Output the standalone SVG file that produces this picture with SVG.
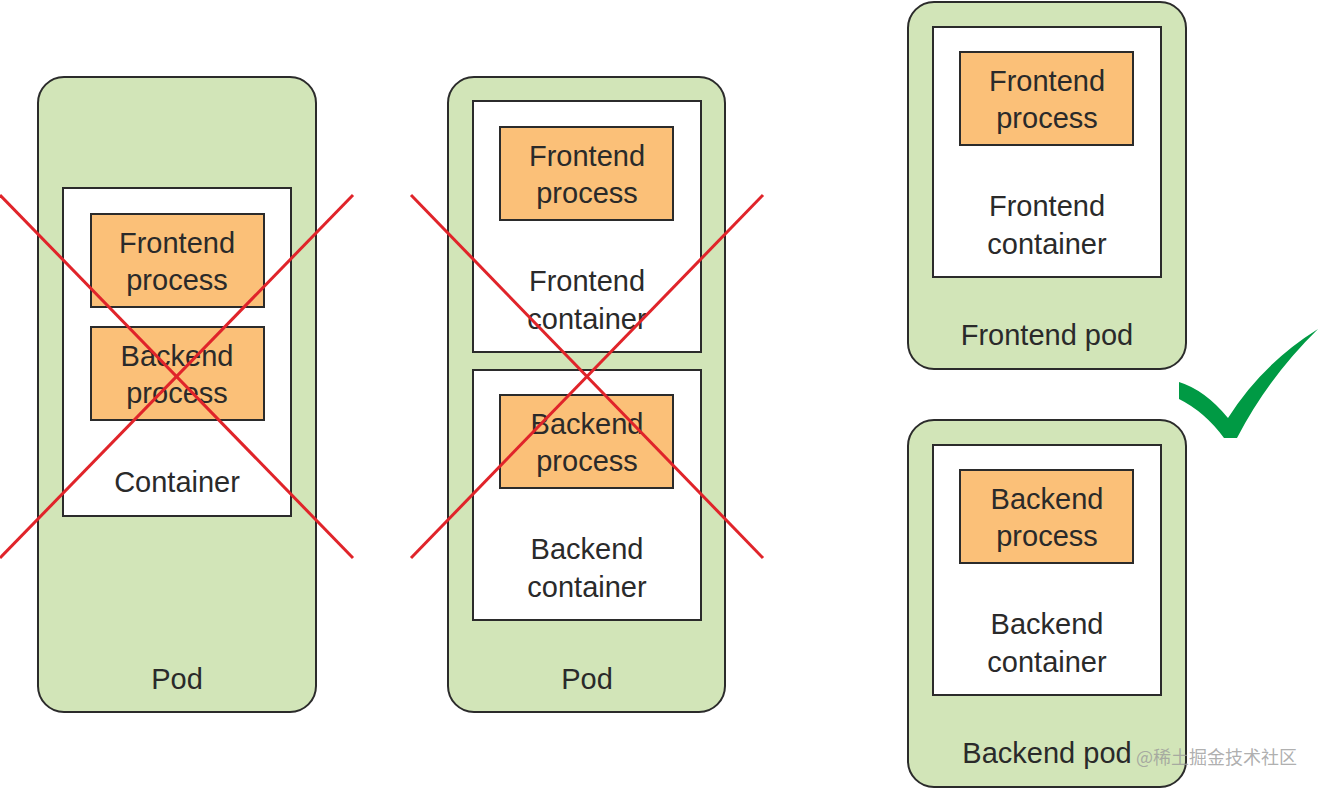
<svg xmlns="http://www.w3.org/2000/svg" width="1319" height="790" viewBox="0 0 1319 790">
<style>
.pod{fill:#d2e5b8;stroke:#2b2b2b;stroke-width:2}
.ctr{fill:#ffffff;stroke:#2b2b2b;stroke-width:2}
.proc{fill:#fbc078;stroke:#2b2b2b;stroke-width:2}
.t{font-family:"Liberation Sans",Arial,sans-serif;font-size:29px;fill:#2a2a2a;text-anchor:middle}
.x{stroke:#e0242a;stroke-width:3;fill:none}
.wm{font-family:"Noto Sans CJK SC","Liberation Sans",sans-serif;font-size:18px;fill:#9a9a9a;fill-opacity:0.8}
</style>
<rect width="1319" height="790" fill="#ffffff"/>
<g id="pod1">
<rect class="pod" x="38" y="77" width="278" height="635" rx="26"/>
<text class="t" x="177" y="689">Pod</text>
</g>
<g id="container1">
<rect class="ctr" x="63" y="188" width="228" height="328"/>
<text class="t" x="177" y="492">Container</text>
</g>
<g id="frontend-process1">
<rect class="proc" x="91" y="214" width="173" height="93"/>
<text class="t" x="177" y="253">Frontend</text>
<text class="t" x="177" y="290">process</text>
</g>
<g id="backend-process1">
<rect class="proc" x="91" y="327" width="173" height="93"/>
<text class="t" x="177" y="366">Backend</text>
<text class="t" x="177" y="403">process</text>
</g>
<g id="pod2">
<rect class="pod" x="448" y="77" width="277" height="635" rx="26"/>
<text class="t" x="587" y="689">Pod</text>
</g>
<g id="frontend-container2">
<rect class="ctr" x="473" y="101" width="228" height="251"/>
<text class="t" x="587" y="291">Frontend</text>
<text class="t" x="587" y="329">container</text>
</g>
<g id="frontend-process2">
<rect class="proc" x="500" y="127" width="173" height="93"/>
<text class="t" x="587" y="166">Frontend</text>
<text class="t" x="587" y="203">process</text>
</g>
<g id="backend-container2">
<rect class="ctr" x="473" y="370" width="228" height="250"/>
<text class="t" x="587" y="559">Backend</text>
<text class="t" x="587" y="597">container</text>
</g>
<g id="backend-process2">
<rect class="proc" x="500" y="395" width="173" height="93"/>
<text class="t" x="587" y="434">Backend</text>
<text class="t" x="587" y="471">process</text>
</g>
<g id="frontend-pod">
<rect class="pod" x="908" y="2" width="278" height="367" rx="26"/>
<text class="t" x="1047" y="345">Frontend pod</text>
</g>
<g id="frontend-container3">
<rect class="ctr" x="933" y="27" width="228" height="250"/>
<text class="t" x="1047" y="216">Frontend</text>
<text class="t" x="1047" y="254">container</text>
</g>
<g id="frontend-process3">
<rect class="proc" x="960" y="52" width="173" height="93"/>
<text class="t" x="1047" y="91">Frontend</text>
<text class="t" x="1047" y="128">process</text>
</g>
<g id="backend-pod">
<rect class="pod" x="908" y="420" width="278" height="367" rx="26"/>
<text class="t" x="1047" y="763">Backend pod</text>
</g>
<g id="backend-container3">
<rect class="ctr" x="933" y="445" width="228" height="250"/>
<text class="t" x="1047" y="634">Backend</text>
<text class="t" x="1047" y="672">container</text>
</g>
<g id="backend-process3">
<rect class="proc" x="960" y="470" width="173" height="93"/>
<text class="t" x="1047" y="509">Backend</text>
<text class="t" x="1047" y="546">process</text>
</g>
<g id="marks">
<line class="x" x1="0" y1="195" x2="353" y2="558"/>
<line class="x" x1="353" y1="195" x2="0" y2="558"/>
<line class="x" x1="411" y1="195" x2="763" y2="558"/>
<line class="x" x1="763" y1="195" x2="411" y2="558"/>
<path d="M1179,382 Q1205,390 1228,418 Q1262,364 1318,329 Q1268,378 1237,438 L1224,438 Q1205,412 1179,399 Z" fill="#009a44"/>
</g>
<text class="wm" x="1136" y="764">@稀土掘金技术社区</text>
</svg>
